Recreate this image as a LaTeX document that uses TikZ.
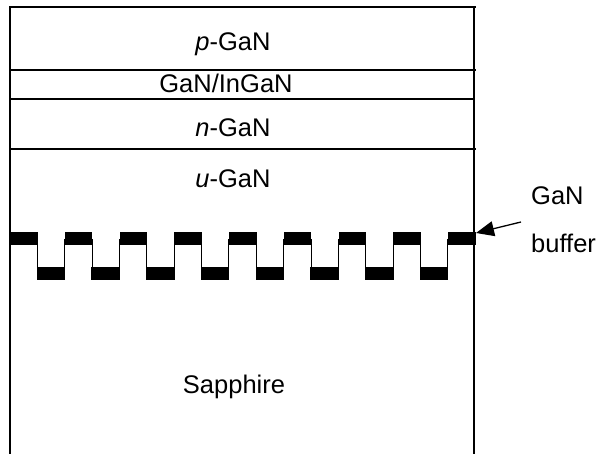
\documentclass[tikz,border=0pt]{standalone}
\usepackage{fontspec}
\setmainfont{Liberation Sans}
\usetikzlibrary{arrows.meta}
\begin{document}
\begin{tikzpicture}[x=1pt,y=-1pt,
  layer/.style={line width=1.3pt},
  lbl/.style={anchor=base,inner sep=0pt,font=\fontsize{25.5}{30}\selectfont},
  sidelbl/.style={anchor=base west,inner sep=0pt,font=\fontsize{25.5}{30}\selectfont},
  bar/.style={fill=black},
  wave/.style={line width=1.1pt},
  pointer/.style={line width=1.3pt,-{Triangle[length=18pt,width=15pt]}}]
\useasboundingbox (0,0) rectangle (598,454);
% outline and layer boundaries
\draw[layer] (10,454) -- (10,7) -- (476,7);
\draw[layer] (474,7) -- (474,454);
\draw[layer] (10,70) -- (476,70);
\draw[layer] (10,99) -- (474,99);
\draw[layer] (10,149) -- (476,149);
% layer labels
\node[lbl] (pgan) at (233,51) {\textit{p}-GaN};
\node[lbl] (mqw) at (226,93) {GaN/InGaN};
\node[lbl] (ngan) at (233,137) {\textit{n}-GaN};
\node[lbl] (ugan) at (233,188) {\textit{u}-GaN};
\node[lbl] (sapph) at (234,394) {Sapphire};
% patterned GaN buffer
\foreach \k in {0,...,8}
  \fill[bar] ({10+54.75*\k},232.5) rectangle +(27.5,13);
\foreach \k in {0,...,7}
  \fill[bar] ({36.5+54.75*\k},267.5) rectangle +(28.5,13);
\foreach \k in {0,...,7}{
  \draw[wave] ({37.3+54.75*\k},239) -- ({37.3+54.75*\k},274);
  \draw[wave] ({64.6+54.75*\k},239) -- ({64.6+54.75*\k},274);
}
% label and arrow
\node[sidelbl] (gan) at (531,205) {GaN};
\node[sidelbl] (buf) at (531,253) {buffer};
\coordinate (tail) at (521,222);
\coordinate (tip) at (476,233);
\draw[pointer] (tail) -- (tip);
\end{tikzpicture}
\end{document}
